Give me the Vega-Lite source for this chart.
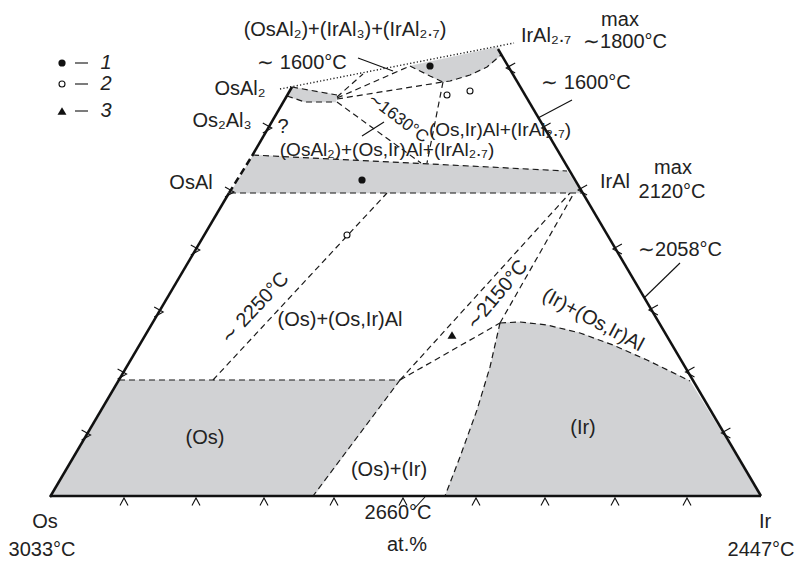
{
"$schema": "https://vega.github.io/schema/vega-lite/v6.json",
"width": 796, "height": 563,
"autosize": {"type": "fit", "contains": "padding"},
"padding": 0,
"background": "white",
"config": {"view": {"stroke": null}},
"datasets": {
"fills": [
{"id":"band","o":0,"x":253,"y":155},{"id":"band","o":1,"x":567,"y":171},{"id":"band","o":2,"x":582,"y":193},{"id":"band","o":3,"x":230,"y":193},
{"id":"os","o":0,"x":50,"y":497},{"id":"os","o":1,"x":119,"y":380},{"id":"os","o":2,"x":400,"y":380},{"id":"os","o":3,"x":313,"y":497},
{"id":"ir","o":0,"x":500,"y":323},{"id":"ir","o":1,"x":520,"y":322},{"id":"ir","o":2,"x":547,"y":325},{"id":"ir","o":3,"x":580,"y":333},{"id":"ir","o":4,"x":613,"y":345},{"id":"ir","o":5,"x":647,"y":360},{"id":"ir","o":6,"x":690,"y":381},{"id":"ir","o":7,"x":761,"y":496},{"id":"ir","o":8,"x":445,"y":496},{"id":"ir","o":9,"x":460,"y":457},{"id":"ir","o":10,"x":477,"y":410},{"id":"ir","o":11,"x":490,"y":367},
{"id":"osal2","o":0,"x":292,"y":87},{"id":"osal2","o":1,"x":337,"y":95},{"id":"osal2","o":2,"x":336,"y":102},{"id":"osal2","o":3,"x":305,"y":102},{"id":"osal2","o":4,"x":287,"y":96},
{"id":"iral","o":0,"x":410,"y":66},{"id":"iral","o":1,"x":498,"y":47},{"id":"iral","o":2,"x":501,"y":55},{"id":"iral","o":3,"x":487,"y":67},{"id":"iral","o":4,"x":470,"y":75},{"id":"iral","o":5,"x":450,"y":81},{"id":"iral","o":6,"x":443,"y":82},{"id":"iral","o":7,"x":430,"y":76}
],
"thick": [
{"id":"t1","o":0,"x":50,"y":496},{"id":"t1","o":1,"x":761,"y":496},
{"id":"t2","o":0,"x":50,"y":497},{"id":"t2","o":1,"x":229,"y":193},
{"id":"t3","o":0,"x":252,"y":156},{"id":"t3","o":1,"x":292,"y":87},
{"id":"t4","o":0,"x":761,"y":496},{"id":"t4","o":1,"x":498,"y":49}
],
"thickdash": [
{"id":"td","o":0,"x":229,"y":193},{"id":"td","o":1,"x":252,"y":156}
],
"thin": [
{"id":"l1","o":0,"x":358,"y":58},{"id":"l1","o":1,"x":393,"y":71},
{"id":"l2","o":0,"x":572,"y":100},{"id":"l2","o":1,"x":538,"y":118},
{"id":"l3","o":0,"x":680,"y":263},{"id":"l3","o":1,"x":644,"y":298},
{"id":"l4","o":0,"x":425,"y":497},{"id":"l4","o":1,"x":413,"y":510},
{"id":"l5","o":0,"x":362,"y":136},{"id":"l5","o":1,"x":384,"y":122},
{"id":"g1","o":0,"x":75,"y":63},{"id":"g1","o":1,"x":88,"y":63},
{"id":"g2","o":0,"x":75,"y":84},{"id":"g2","o":1,"x":88,"y":84},
{"id":"g3","o":0,"x":75,"y":111},{"id":"g3","o":1,"x":88,"y":111},
{"id":"cl1","o":0,"x":81.6,"y":430},{"id":"cl1","o":1,"x":90.6,"y":435},{"id":"cl1","o":2,"x":81.6,"y":440},
{"id":"cl2","o":0,"x":117.6,"y":369},{"id":"cl2","o":1,"x":126.6,"y":374},{"id":"cl2","o":2,"x":117.6,"y":379},
{"id":"cl3","o":0,"x":154.2,"y":307},{"id":"cl3","o":1,"x":163.2,"y":312},{"id":"cl3","o":2,"x":154.2,"y":317},
{"id":"cl4","o":0,"x":190.8,"y":245},{"id":"cl4","o":1,"x":199.8,"y":250},{"id":"cl4","o":2,"x":190.8,"y":255},
{"id":"cl5","o":0,"x":225,"y":187},{"id":"cl5","o":1,"x":234,"y":192},{"id":"cl5","o":2,"x":225,"y":197},
{"id":"cl6","o":0,"x":262.8,"y":123},{"id":"cl6","o":1,"x":271.8,"y":128},{"id":"cl6","o":2,"x":262.8,"y":133},
{"id":"cr1","o":0,"x":730.4,"y":428},{"id":"cr1","o":1,"x":721.4,"y":433},{"id":"cr1","o":2,"x":730.4,"y":438},
{"id":"cr2","o":0,"x":694.5,"y":367},{"id":"cr2","o":1,"x":685.5,"y":372},{"id":"cr2","o":2,"x":694.5,"y":377},
{"id":"cr3","o":0,"x":657.9,"y":305},{"id":"cr3","o":1,"x":648.9,"y":310},{"id":"cr3","o":2,"x":657.9,"y":315},
{"id":"cr4","o":0,"x":621.9,"y":244},{"id":"cr4","o":1,"x":612.9,"y":249},{"id":"cr4","o":2,"x":621.9,"y":254},
{"id":"cr5","o":0,"x":587.1,"y":185},{"id":"cr5","o":1,"x":578.1,"y":190},{"id":"cr5","o":2,"x":587.1,"y":195},
{"id":"cr6","o":0,"x":550.6,"y":123},{"id":"cr6","o":1,"x":541.6,"y":128},{"id":"cr6","o":2,"x":550.6,"y":133},
{"id":"cr7","o":0,"x":515.2,"y":63},{"id":"cr7","o":1,"x":506.2,"y":68},{"id":"cr7","o":2,"x":515.2,"y":73},
{"id":"cb1","o":0,"x":120,"y":505.5},{"id":"cb1","o":1,"x":124,"y":498},{"id":"cb1","o":2,"x":128,"y":505.5},
{"id":"cb2","o":0,"x":192,"y":505.5},{"id":"cb2","o":1,"x":196,"y":498},{"id":"cb2","o":2,"x":200,"y":505.5},
{"id":"cb3","o":0,"x":260,"y":505.5},{"id":"cb3","o":1,"x":264,"y":498},{"id":"cb3","o":2,"x":268,"y":505.5},
{"id":"cb4","o":0,"x":330,"y":505.5},{"id":"cb4","o":1,"x":334,"y":498},{"id":"cb4","o":2,"x":338,"y":505.5},
{"id":"cb5","o":0,"x":399,"y":505.5},{"id":"cb5","o":1,"x":403,"y":498},{"id":"cb5","o":2,"x":407,"y":505.5},
{"id":"cb6","o":0,"x":472,"y":505.5},{"id":"cb6","o":1,"x":476,"y":498},{"id":"cb6","o":2,"x":480,"y":505.5},
{"id":"cb7","o":0,"x":541,"y":505.5},{"id":"cb7","o":1,"x":545,"y":498},{"id":"cb7","o":2,"x":549,"y":505.5},
{"id":"cb8","o":0,"x":611,"y":505.5},{"id":"cb8","o":1,"x":615,"y":498},{"id":"cb8","o":2,"x":619,"y":505.5},
{"id":"cb9","o":0,"x":683,"y":505.5},{"id":"cb9","o":1,"x":687,"y":498},{"id":"cb9","o":2,"x":691,"y":505.5}
],
"dash": [
{"id":"d1","o":0,"x":253,"y":155},{"id":"d1","o":1,"x":567,"y":171},
{"id":"d2","o":0,"x":230,"y":193},{"id":"d2","o":1,"x":582,"y":193},
{"id":"d3","o":0,"x":119,"y":380},{"id":"d3","o":1,"x":400,"y":380},
{"id":"d4","o":0,"x":400,"y":380},{"id":"d4","o":1,"x":313,"y":496},
{"id":"d5","o":0,"x":500,"y":323},{"id":"d5","o":1,"x":520,"y":322},{"id":"d5","o":2,"x":547,"y":325},{"id":"d5","o":3,"x":580,"y":333},{"id":"d5","o":4,"x":613,"y":345},{"id":"d5","o":5,"x":647,"y":360},{"id":"d5","o":6,"x":690,"y":381},
{"id":"d6","o":0,"x":500,"y":323},{"id":"d6","o":1,"x":490,"y":367},{"id":"d6","o":2,"x":477,"y":410},{"id":"d6","o":3,"x":460,"y":457},{"id":"d6","o":4,"x":445,"y":496},
{"id":"d7","o":0,"x":213,"y":380},{"id":"d7","o":1,"x":387,"y":193},
{"id":"d8","o":0,"x":400,"y":380},{"id":"d8","o":1,"x":570,"y":193},
{"id":"d9","o":0,"x":400,"y":380},{"id":"d9","o":1,"x":500,"y":323},
{"id":"d10","o":0,"x":500,"y":323},{"id":"d10","o":1,"x":574,"y":193},
{"id":"d11","o":0,"x":292,"y":87},{"id":"d11","o":1,"x":337,"y":95},
{"id":"d12","o":0,"x":287,"y":96},{"id":"d12","o":1,"x":305,"y":102},{"id":"d12","o":2,"x":336,"y":102},
{"id":"d13","o":0,"x":337,"y":97},{"id":"d13","o":1,"x":363,"y":74},
{"id":"d14","o":0,"x":337,"y":98},{"id":"d14","o":1,"x":410,"y":66},
{"id":"d15","o":0,"x":337,"y":99},{"id":"d15","o":1,"x":443,"y":82},
{"id":"d16","o":0,"x":337,"y":102},{"id":"d16","o":1,"x":421,"y":163},
{"id":"d17","o":0,"x":443,"y":82},{"id":"d17","o":1,"x":427,"y":163},
{"id":"d18","o":0,"x":410,"y":66},{"id":"d18","o":1,"x":430,"y":76},{"id":"d18","o":2,"x":443,"y":82},{"id":"d18","o":3,"x":450,"y":81},{"id":"d18","o":4,"x":470,"y":75},{"id":"d18","o":5,"x":487,"y":67},{"id":"d18","o":6,"x":501,"y":55}
],
"dot": [
{"id":"dt","o":0,"x":280,"y":89},{"id":"dt","o":1,"x":514,"y":43}
],
"pts": [
{"k":"f","x":430,"y":66},{"k":"f","x":362,"y":180},{"k":"f","x":62,"y":63},
{"k":"o","x":447,"y":95},{"k":"o","x":470,"y":91},{"k":"o","x":347,"y":235},{"k":"o","x":62,"y":84},
{"k":"t","x":452,"y":335},{"k":"t","x":62,"y":111}
],
"labels": [
{"t":"(OsAl₂)+(IrAl₃)+(IrAl₂.₇)","x":345,"y":30,"a":0},
{"t":"IrAl₂.₇","x":546,"y":36,"a":0},
{"t":"max","x":620,"y":20,"a":0},
{"t":"∼1800°C","x":625,"y":42,"a":0},
{"t":"∼ 1600°C","x":302,"y":63,"a":0},
{"t":"∼ 1600°C","x":586,"y":83,"a":0},
{"t":"OsAl₂","x":240,"y":89,"a":0},
{"t":"Os₂Al₃","x":222,"y":121,"a":0},
{"t":"?","x":283,"y":127,"a":0},
{"t":"OsAl","x":191,"y":183,"a":0},
{"t":"IrAl","x":615,"y":182,"a":0},
{"t":"max","x":673,"y":168,"a":0},
{"t":"2120°C","x":672,"y":192,"a":0},
{"t":"∼2058°C","x":680,"y":250,"a":0},
{"t":"∼ 2250°C","x":255,"y":308,"a":-47},
{"t":"(Os)+(Os,Ir)Al","x":340,"y":320,"a":0},
{"t":"∼2150°C","x":497,"y":295,"a":-50},
{"t":"(Ir)+(Os,Ir)Al","x":593,"y":320,"a":28},
{"t":"(Os)","x":205,"y":438,"a":0},
{"t":"(Ir)","x":583,"y":428,"a":0},
{"t":"(Os)+(Ir)","x":389,"y":470,"a":0},
{"t":"Os","x":45,"y":522,"a":0},
{"t":"3033°C","x":42,"y":550,"a":0},
{"t":"2660°C","x":398,"y":513,"a":0},
{"t":"at.%","x":407,"y":545,"a":0},
{"t":"Ir","x":765,"y":522,"a":0},
{"t":"2447°C","x":761,"y":550,"a":0}
],
"mid": [
{"t":"(Os,Ir)Al+(IrAl₂.₇)","x":500,"y":130,"a":0},
{"t":"(OsAl₂)+(Os,Ir)Al+(IrAl₂.₇)","x":387,"y":150,"a":0}
],
"small": [
{"t":"∼1630°C","x":398,"y":118,"a":37}
],
"legend": [
{"t":"1","x":106,"y":63},{"t":"2","x":106,"y":84},{"t":"3","x":106,"y":111}
]
},
"encoding": {
"x": {"field":"x","type":"quantitative","scale":{"domain":[0,796],"nice":false,"zero":false},"axis":null},
"y": {"field":"y","type":"quantitative","scale":{"domain":[0,563],"reverse":true,"nice":false,"zero":false},"axis":null}
},
"layer": [
{"data":{"name":"fills"},"mark":{"type":"line","fill":"#d1d2d4","stroke":"#d1d2d4","strokeWidth":0.5},
 "encoding":{"detail":{"field":"id"},"order":{"field":"o","type":"quantitative"}}},
{"data":{"name":"dash"},"mark":{"type":"line","color":"#1a1a1a","strokeWidth":1.2,"strokeDash":[6,4]},
 "encoding":{"detail":{"field":"id"},"order":{"field":"o","type":"quantitative"}}},
{"data":{"name":"dot"},"mark":{"type":"line","color":"#1a1a1a","strokeWidth":1.4,"strokeDash":[1.2,2.2]},
 "encoding":{"detail":{"field":"id"},"order":{"field":"o","type":"quantitative"}}},
{"data":{"name":"thin"},"mark":{"type":"line","color":"#111","strokeWidth":1.1},
 "encoding":{"detail":{"field":"id"},"order":{"field":"o","type":"quantitative"}}},
{"data":{"name":"thick"},"mark":{"type":"line","color":"#111","strokeWidth":2.5},
 "encoding":{"detail":{"field":"id"},"order":{"field":"o","type":"quantitative"}}},
{"data":{"name":"thickdash"},"mark":{"type":"line","color":"#111","strokeWidth":2.5,"strokeDash":[7,4]},
 "encoding":{"detail":{"field":"id"},"order":{"field":"o","type":"quantitative"}}},
{"data":{"name":"pts"},"transform":[{"filter":"datum.k == 'f'"}],"mark":{"type":"point","shape":"circle","filled":true,"color":"#111","size":52,"opacity":1}},
{"data":{"name":"pts"},"transform":[{"filter":"datum.k == 'o'"}],"mark":{"type":"point","shape":"circle","filled":false,"color":"#111","size":36,"strokeWidth":1.1,"fill":"white","opacity":1}},
{"data":{"name":"pts"},"transform":[{"filter":"datum.k == 't'"}],"mark":{"type":"point","shape":"triangle-up","filled":true,"color":"#111","size":80,"opacity":1}},
{"data":{"name":"labels"},"mark":{"type":"text","font":"Liberation Sans","fontSize":20,"color":"#222","align":"center","baseline":"middle"},
 "encoding":{"text":{"field":"t"},"angle":{"field":"a","type":"quantitative","scale":null}}},
{"data":{"name":"mid"},"mark":{"type":"text","font":"Liberation Sans","fontSize":19,"color":"#222","align":"center","baseline":"middle"},
 "encoding":{"text":{"field":"t"}}},
{"data":{"name":"small"},"mark":{"type":"text","font":"Liberation Sans","fontSize":17,"color":"#222","align":"center","baseline":"middle"},
 "encoding":{"text":{"field":"t"},"angle":{"field":"a","type":"quantitative","scale":null}}},
{"data":{"name":"legend"},"mark":{"type":"text","font":"Liberation Sans","fontSize":20,"fontStyle":"italic","color":"#222","align":"center","baseline":"middle"},
 "encoding":{"text":{"field":"t"}}}
]
}
